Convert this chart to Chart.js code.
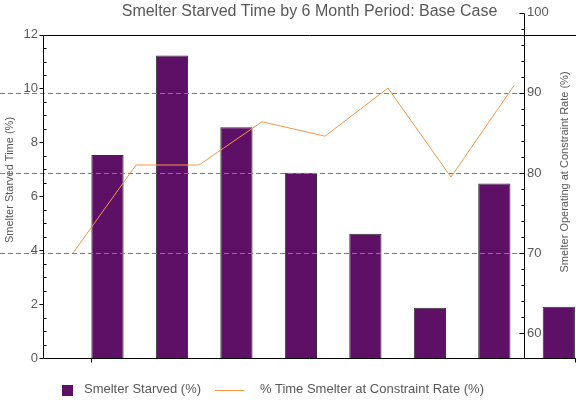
<!DOCTYPE html>
<html>
<head>
<meta charset="utf-8">
<script src="https://cdn.jsdelivr.net/npm/chart.js@4.4.1/dist/chart.umd.min.js"></script>
<style>
  body { margin: 0; background: #fff; }
  #wrap { position: relative; width: 576px; height: 406px; }
  .key { position: absolute; }
  .key-text { position: absolute; top: 381px; font: 13px 'Liberation Sans', Arial, sans-serif; line-height: 15px; color: #595959; white-space: nowrap; }
</style>
</head>
<body>
<div id="wrap">
  <canvas id="starved_chart" width="576" height="406"></canvas>
  <div class="key" id="key_bar" style="left:62px; top:385px; width:11px; height:11px;"></div>
  <span class="key-text" id="key_bar_text" style="left:84px;"></span>
  <div class="key" id="key_line" style="left:215px; top:390px; width:29px; height:1px;"></div>
  <span class="key-text" id="key_line_text" style="left:260px;"></span>
</div>
<script>
const periods = [1, 2, 3, 4, 5, 6, 7, 8];
const starvedPct = [7.53, 11.22, 8.56, 6.87, 4.61, 1.86, 6.47, 1.90];
const constraintRatePct = [70.0, 81.0, 81.0, 86.4, 84.6, 90.6, 79.5, 90.9];
const rateGridLines = [70, 80, 90];

const barColor = '#5E1066';
const lineColor = '#F79646';
const textColor = '#595959';

// dashed grid lines on top of the bars, frame + tick marks, titles
const axisFrame = {
  id: 'axisFrame',
  afterDatasetDraw(chart, args) {
    if (args.meta.type !== 'bar') return;
    const ctx = chart.ctx;
    const y2 = chart.scales.y2;
    ctx.save();
    ctx.strokeStyle = '#808080';
    ctx.lineWidth = 1;
    ctx.setLineDash([5, 3]);
    rateGridLines.forEach(v => {
      const py = Math.round(y2.getPixelForValue(v)) + 0.5;
      ctx.beginPath();
      ctx.moveTo(0, py);
      ctx.lineTo(y2.left, py);
      ctx.stroke();
    });
    ctx.restore();
  },
  afterDraw(chart) {
    const {ctx, chartArea, scales: {x, y, y2}} = chart;
    const px = v => Math.round(v) + 0.5;
    const left = px(chartArea.left);
    const top = px(y.getPixelForValue(12));
    const bottom = px(y.getPixelForValue(0));
    const axisX = px(y2.left);
    const edge = chart.width;

    ctx.save();
    ctx.strokeStyle = '#000';
    ctx.lineWidth = 1;
    ctx.beginPath();
    ctx.moveTo(left, top); ctx.lineTo(edge, top);
    ctx.moveTo(left, top); ctx.lineTo(left, bottom); ctx.lineTo(edge, bottom);
    ctx.moveTo(axisX, px(y2.getPixelForValue(100))); ctx.lineTo(axisX, bottom);
    for (let v = 0; v <= 12; v += 0.5) {
      const py = px(y.getPixelForValue(v));
      if (v % 2 === 0) { ctx.moveTo(left - 4, py); ctx.lineTo(left, py); }
      else { ctx.moveTo(left, py); ctx.lineTo(left + 3, py); }
    }
    for (let v = 60; v <= 100; v += 2) {
      const py = px(y2.getPixelForValue(v));
      ctx.moveTo(axisX - (v % 10 === 0 ? 5 : 3), py); ctx.lineTo(axisX, py);
    }
    [0.75, 8.25].forEach(v => {
      const tx = Math.min(px(x.getPixelForValue(v)), edge - 0.5);
      ctx.moveTo(tx, bottom); ctx.lineTo(tx, bottom + 4);
    });
    ctx.stroke();

    ctx.fillStyle = textColor;
    ctx.textAlign = 'center';
    ctx.textBaseline = 'middle';
    ctx.font = "16px 'Liberation Sans', Arial, sans-serif";
    ctx.fillText(chart.options.plugins.title.text, (chartArea.left + edge) / 2, 12);

    ctx.font = "11px 'Liberation Sans', Arial, sans-serif";
    [[y, 10, 180], [y2, 565, 172]].forEach(([scale, tx, ty]) => {
      ctx.save();
      ctx.translate(tx, ty);
      ctx.rotate(-Math.PI / 2);
      ctx.fillText(scale.options.title.text, 0, 0);
      ctx.restore();
    });
    ctx.restore();
  }
};

Chart.defaults.font.family = "'Liberation Sans', Arial, sans-serif";
Chart.defaults.color = textColor;

const ctx = document.getElementById('starved_chart');

const starvedChart = new Chart(ctx, {
  type: 'bar',
  data: {
    datasets: [
      {
        type: 'line',
        label: '% Time Smelter at Constraint Rate (%)',
        data: periods.map((p, i) => ({x: p, y: constraintRatePct[i]})),
        xAxisID: 'x2',
        yAxisID: 'y2',
        borderColor: lineColor,
        borderWidth: 1,
        pointRadius: 0,
        tension: 0,
        order: 0
      },
      {
        type: 'bar',
        label: 'Smelter Starved (%)',
        data: periods.map((p, i) => ({x: p, y: starvedPct[i]})),
        xAxisID: 'x',
        yAxisID: 'y',
        backgroundColor: barColor,
        borderColor: '#303030',
        borderWidth: 1,
        grouped: false,
        categoryPercentage: 1,
        barPercentage: 0.5,
        clip: false,
        order: 1
      }
    ]
  },
  plugins: [axisFrame],
  options: {
    responsive: false,
    animation: false,
    layout: { padding: { left: 0, right: 0, top: 9, bottom: 48 } },
    plugins: {
      legend: { display: false },
      tooltip: { enabled: false },
      title: { display: false, text: 'Smelter Starved Time by 6 Month Period: Base Case' }
    },
    scales: {
      x: { type: 'linear', display: false, offset: false, min: 0, max: 7.46, ticks: { stepSize: 1, includeBounds: false } },
      x2: { type: 'linear', display: false, offset: false, min: 0.524, max: 8.159, ticks: { stepSize: 1, includeBounds: false } },
      y: {
        position: 'left',
        min: 0,
        max: 12.807,
        border: { display: false },
        grid: { display: false, drawTicks: false },
        title: { display: false, text: 'Smelter Starved Time (%)' },
        ticks: { stepSize: 2, includeBounds: false, padding: 5, font: { size: 13 } },
        afterFit(scale) { scale.width = 43; }
      },
      y2: {
        position: 'right',
        min: 56.91,
        max: 100,
        border: { display: false },
        grid: { display: false, drawTicks: false },
        title: { display: false, text: 'Smelter Operating at Constraint Rate (%)' },
        ticks: { stepSize: 10, includeBounds: false, padding: 3, font: { size: 13 } },
        afterFit(scale) { scale.width = 52; }
      }
    }
  }
});

document.getElementById('key_bar').style.background = barColor;
document.getElementById('key_line').style.background = lineColor;
document.getElementById('key_bar_text').textContent = starvedChart.data.datasets[1].label;
document.getElementById('key_line_text').textContent = starvedChart.data.datasets[0].label;
</script>
</body>
</html>
